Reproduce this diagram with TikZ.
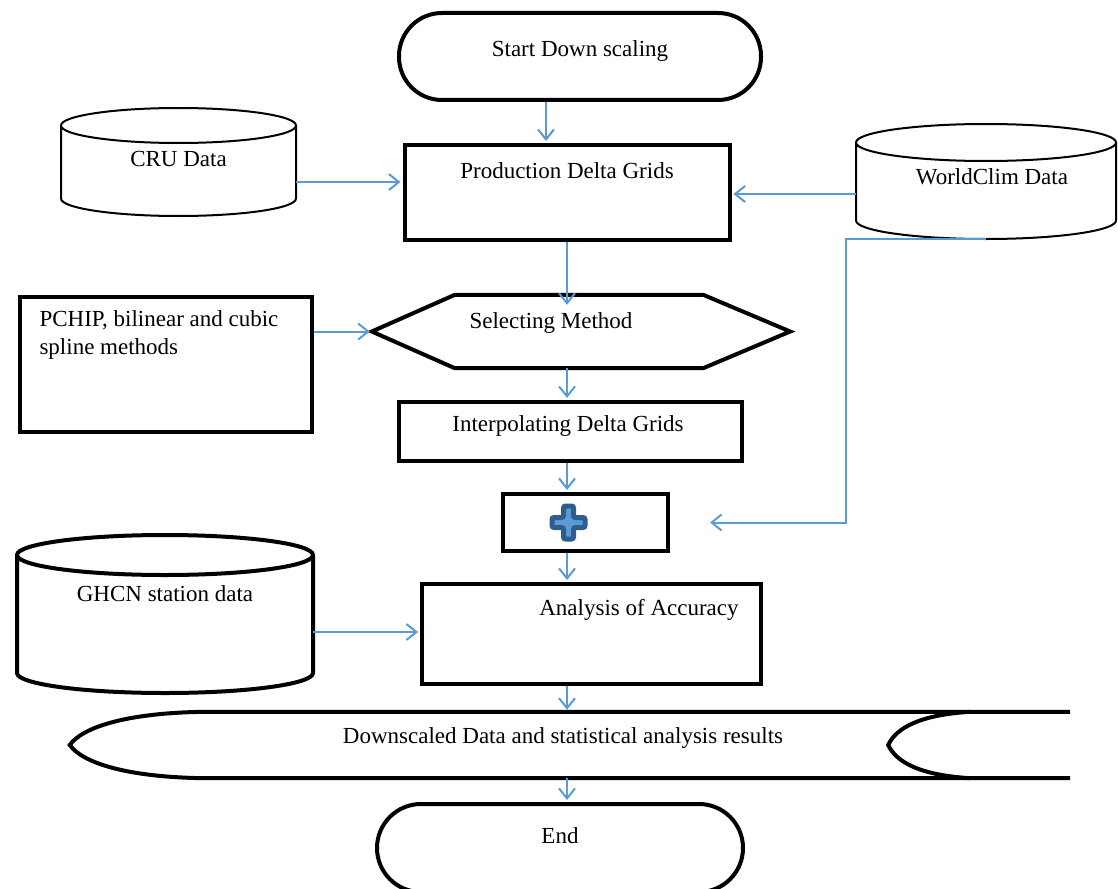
\documentclass[tikz,border=0pt]{standalone}
\usepackage{fontspec}
\setmainfont{Liberation Serif}
\usetikzlibrary{arrows.meta}
\definecolor{flowblue}{RGB}{91,155,213}
\definecolor{plusdark}{RGB}{46,94,140}
% data store outline: node, x radius, y radius, line width
\newcommand\drum[4]{%
  \draw[line width=#4] ([yshift=-#3pt]#1.north west) -- ([yshift=#3pt]#1.south west)
    arc[start angle=180, end angle=360, x radius=#2pt, y radius=#3pt]
    -- ([yshift=-#3pt]#1.north east)
    arc[start angle=0, end angle=360, x radius=#2pt, y radius=#3pt];}

\begin{document}
\begin{tikzpicture}[x=1pt, y=-1pt,
    font=\fontsize{23}{28}\selectfont,
    box/.style={draw, line width=4pt, inner sep=0pt},
    term/.style={box, rounded corners=43pt},
    store/.style={inner sep=0pt, outer sep=0pt},
    flow/.style={draw=flowblue, line width=2pt, shorten >=2pt,
        -{Straight Barb[length=10pt,width=16pt]}}]
    \useasboundingbox (0,0) rectangle (1118,888);

    % main column
    \node[term, minimum width=362pt, minimum height=87pt,
        label={[yshift=5.5pt]center:Start Down scaling}] (start) at (580,56.5) {};
    \node[box, minimum width=325pt, minimum height=95pt,
        label={[yshift=22pt]center:Production Delta Grids}] (prod) at (567,192.5) {};
    \node[minimum width=418pt, minimum height=73pt, inner sep=0pt,
        label={[xshift=-30pt,yshift=8.5pt]center:Selecting Method}] (sel) at (581,331.5) {};
    \draw[line width=4pt] (sel.west) -- ([xshift=83pt]sel.north west) -- ([xshift=-87pt]sel.north east)
        -- (sel.east) -- ([xshift=-87pt]sel.south east) -- ([xshift=83pt]sel.south west) -- cycle;
    \node[box, minimum width=343pt, minimum height=59pt,
        label={[xshift=-2.5pt,yshift=5.5pt]center:Interpolating Delta Grids}] (interp) at (570.5,431.5) {};
    \node[box, minimum width=165pt, minimum height=57pt] (plusbox) at (585.5,522.5) {};
    \node[box, minimum width=339pt, minimum height=100pt,
        label={[xshift=47.5pt,yshift=24pt]center:Analysis of Accuracy}] (anal) at (591.5,634) {};
    \node[minimum width=1000pt, minimum height=66pt, inner sep=0pt,
        label={[xshift=-7pt,yshift=7pt]center:Downscaled Data and statistical analysis results}] (out) at (570,745) {};
    \node[term, minimum width=366pt, minimum height=88pt, rounded corners=44pt,
        label={[yshift=12pt]center:End}] (end) at (560,848) {};

    % plus sign
    \begin{scope}[shift={([xshift=-17pt]plusbox.center)}]
        \filldraw[fill=flowblue, draw=plusdark, line width=5pt, rounded corners=2pt]
            (-5,-16.5) -- (5,-16.5) -- (5,-5) -- (16.5,-5) -- (16.5,5) -- (5,5) -- (5,16.5)
            -- (-5,16.5) -- (-5,5) -- (-16.5,5) -- (-16.5,-5) -- (-5,-5) -- cycle;
    \end{scope}

    % output (stored data)
    \draw[line width=4pt] (out.north east) -- ([xshift=135pt]out.north west)
        .. controls ([xshift=55pt,yshift=-1pt]out.north west) and ([xshift=12pt,yshift=-16pt]out.north west) .. (out.west)
        .. controls ([xshift=12pt,yshift=16pt]out.south west) and ([xshift=55pt,yshift=1pt]out.south west) .. ([xshift=135pt]out.south west)
        -- (out.south east);
    \draw[line width=4pt] ([xshift=-100pt]out.north east)
        .. controls ([xshift=-150pt,yshift=-3pt]out.north east) and ([xshift=-174pt,yshift=-16pt]out.north east) .. ([xshift=-182pt]out.east)
        .. controls ([xshift=-174pt,yshift=16pt]out.south east) and ([xshift=-150pt,yshift=3pt]out.south east) .. ([xshift=-100pt]out.south east);

    % inputs
    \node[store, minimum width=235pt, minimum height=108pt,
        label={[yshift=3pt]center:CRU Data}] (cru) at (178.5,162) {};
    \drum{cru}{117.5}{17.5}{2pt}
    \node[store, minimum width=260pt, minimum height=115pt,
        label={[xshift=6pt,yshift=4.5pt]center:WorldClim Data}] (world) at (986,181.5) {};
    \drum{world}{130}{18.5}{2pt}
    \node[box, minimum width=292pt, minimum height=135pt,
        label={[anchor=north west, align=left, xshift=18pt, yshift=-12pt]north west:PCHIP, bilinear and cubic\\spline methods}] (pchip) at (166,364.5) {};
    \node[store, minimum width=296pt, minimum height=158pt,
        label={[yshift=20pt]center:GHCN station data}] (ghcn) at (165,614) {};
    \drum{ghcn}{148}{20}{4pt}

    % connectors
    \draw[flow] ([xshift=-34pt]start.south) -- ([xshift=-34pt]start.south |- prod.north);
    \draw[flow] ([yshift=-20pt]cru.east) -- ([yshift=-20pt]cru.east -| prod.west);
    \draw[flow] ([yshift=-12.5pt]world.west) -- ([yshift=-12.5pt]world.west -| prod.east);
    \draw[flow] (prod.south) -- ([yshift=-12pt]prod.south |- sel.north);
    \draw[flow] (pchip.east |- sel.west) -- (sel.west);
    \draw[flow] (sel.south -| prod.south) -- (interp.north -| prod.south);
    \draw[flow] (interp.south -| prod.south) -- (plusbox.north -| prod.south);
    \draw[flow] (world.south) -- ++(-140,0) |- ([xshift=38pt]plusbox.east);
    \draw[flow] (plusbox.south -| prod.south) -- (anal.north -| prod.south);
    \draw[flow] ([yshift=-18pt]ghcn.east) -- ([yshift=-18pt]ghcn.east -| anal.west);
    \draw[flow] (anal.south -| prod.south) -- (out.north -| prod.south);
    \draw[flow] (out.south -| prod.south) -- (end.north -| prod.south);
\end{tikzpicture}
\end{document}
